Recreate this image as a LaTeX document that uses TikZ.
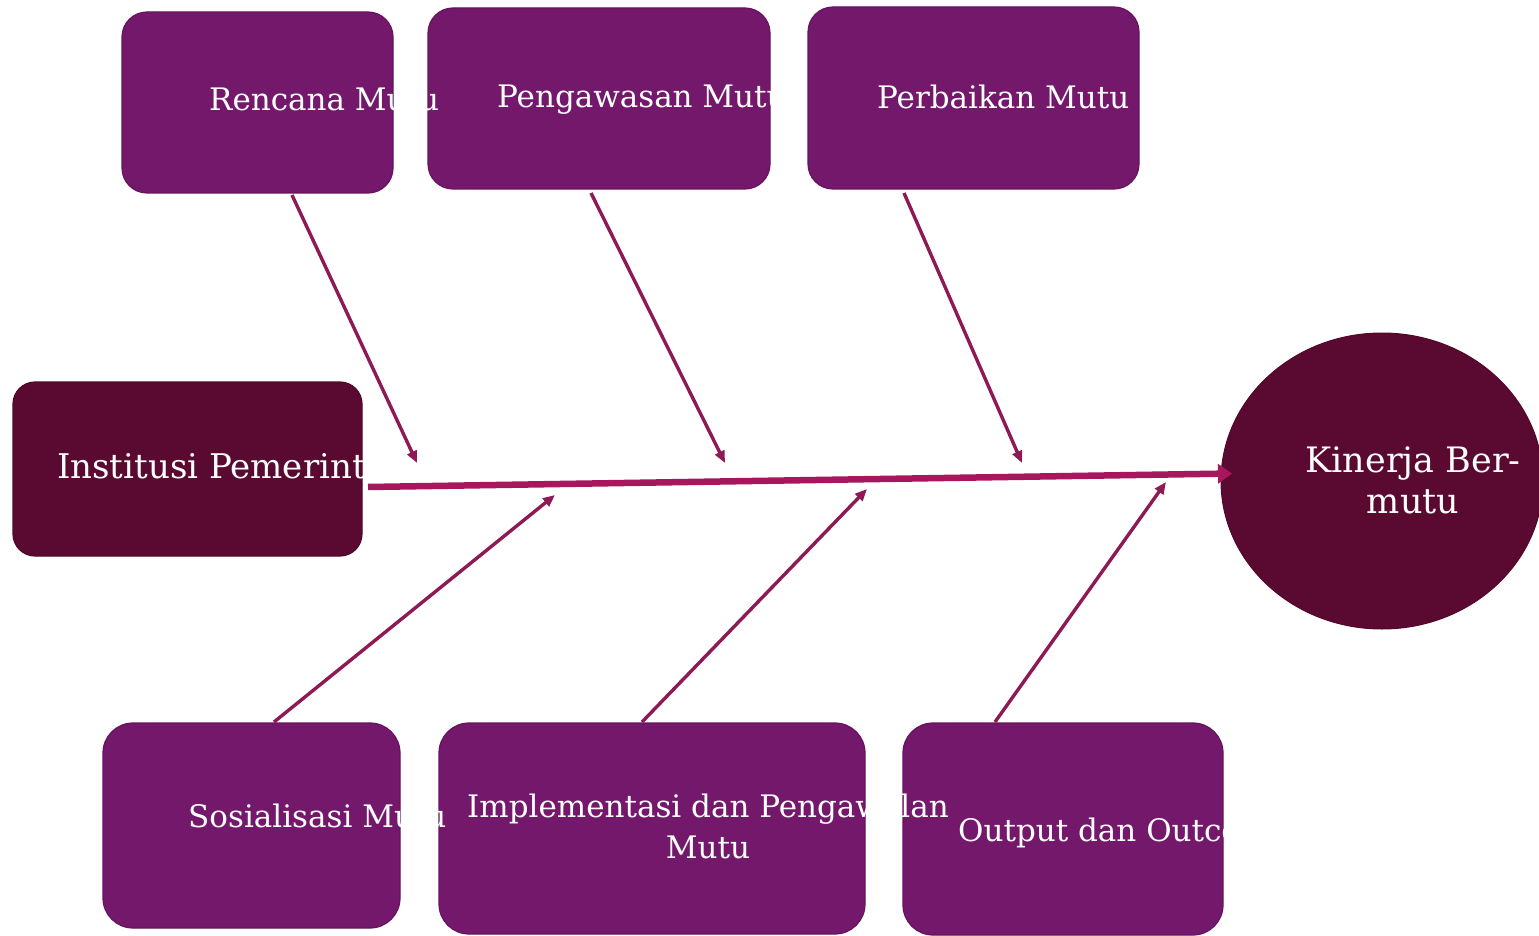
\documentclass[tikz,border=0pt]{standalone}
\usepackage{fontspec}
\setmainfont{DejaVu Serif}
\usetikzlibrary{arrows.meta,shapes.geometric}
\definecolor{boxpurple}{HTML}{74186C}
\definecolor{boxedge}{HTML}{661360}
\definecolor{darkmaroon}{HTML}{5A0A30}
\definecolor{darkedge}{HTML}{520828}
\definecolor{spinecol}{HTML}{A8175E}
\definecolor{bonecol}{HTML}{8E1A55}
\begin{document}
\begin{tikzpicture}[x=1pt,y=-1pt,
  box/.style={draw=boxedge, line width=1.2pt, fill=boxpurple, rounded corners=25pt, inner sep=0pt, outer sep=0pt},
  lowbox/.style={box, rounded corners=30pt},
  darkbox/.style={draw=darkedge, line width=1.2pt, fill=darkmaroon, rounded corners=22pt, inner sep=0pt, outer sep=0pt},
  goal/.style={ellipse, draw=darkedge, line width=1pt, fill=darkmaroon, inner sep=0pt, outer sep=0pt},
  lbl/.style={text=white, inner sep=0pt, anchor=base west, font=\fontsize{31}{41}\selectfont},
  lblc/.style={text=white, inner sep=0pt, anchor=base, font=\fontsize{31}{41}\selectfont},
  bone/.style={draw=bonecol, line width=3.4pt, -{Triangle[length=12pt,width=10pt]}},
  spine/.style={draw=spinecol, line width=6.5pt, -{Triangle[length=14pt,width=19pt]}}]
\useasboundingbox (0,0) rectangle (1539,936);

% boxes
\node[box, minimum width=271pt, minimum height=181pt] (rencana) at (257.5,102.5) {};
\node[box, minimum width=342pt, minimum height=181pt] (pengawasan) at (599,98.5) {};
\node[box, minimum width=331pt, minimum height=182pt] (perbaikan) at (973.5,98) {};
\node[darkbox, minimum width=349pt, minimum height=174pt] (institusi) at (187.5,469) {};
\node[lowbox, minimum width=297pt, minimum height=205pt] (sosialisasi) at (251.5,825.5) {};
\node[lowbox, minimum width=426pt, minimum height=211pt] (implementasi) at (652,828.5) {};
\node[lowbox, minimum width=320pt, minimum height=212pt] (output) at (1063,829) {};
\node[goal, minimum width=322pt, minimum height=296pt] (kinerja) at (1382,481) {};

% arrow ends on the spine
\coordinate (e1) at (417,463);
\coordinate (e2) at (725,463);
\coordinate (e3) at (1022,463);
\coordinate (e4) at (555,495);
\coordinate (e5) at (867,489);
\coordinate (e6) at (1166,482);

% spine
\draw[spine] ([xshift=6pt,yshift=-18pt]institusi.east) -- ([xshift=11pt,yshift=7.5pt]kinerja.west);

% bones
\draw[bone] ([xshift=34.5pt,yshift=-2pt]rencana.south) -- (e1);
\draw[bone] ([xshift=-8pt,yshift=-4pt]pengawasan.south) -- (e2);
\draw[bone] ([xshift=-69.5pt,yshift=-4pt]perbaikan.south) -- (e3);
\draw[bone] ([xshift=22.5pt,yshift=1pt]sosialisasi.north) -- (e4);
\draw[bone] ([xshift=-10pt,yshift=1pt]implementasi.north) -- (e5);
\draw[bone] ([xshift=-68pt,yshift=1pt]output.north) -- (e6);

% labels
\node[lbl] (rencanaT) at (209,111) {Rencana Mutu};
\node[lbl] (pengawasanT) at (497,108) {Pengawasan Mutu};
\node[lbl] (perbaikanT) at (877,109) {Perbaikan Mutu};
\node[lbl, font=\fontsize{34}{41}\selectfont] (institusiT) at (57,478) {Institusi Pemerintah};
\node[lbl] (sosialisasiT) at (188,827) {Sosialisasi Mutu};
\node[lblc] (implementasiT) at (708,817) {\begin{tabular}[t]{@{}c@{}}Implementasi dan Pengawalan\\Mutu\end{tabular}};
\node[lbl] (outputT) at (958,841) {Output dan Outcome};
\node[lblc, font=\fontsize{35}{41}\selectfont] (kinerjaT) at (1413,472) {\begin{tabular}[t]{@{}c@{}}Kinerja Ber-\\mutu\end{tabular}};
\end{tikzpicture}
\end{document}
